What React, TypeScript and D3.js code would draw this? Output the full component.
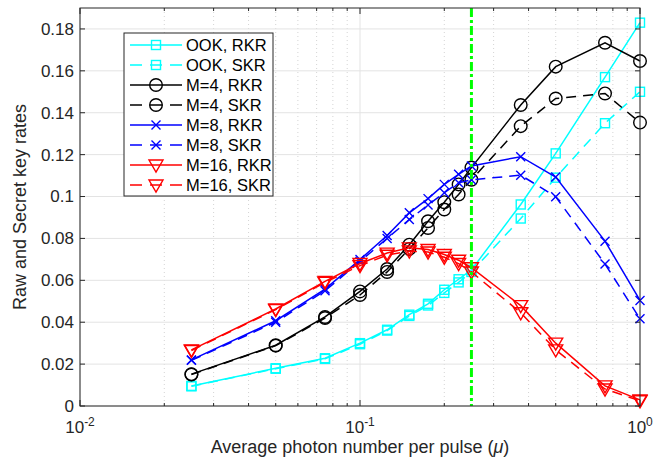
import React from "react";
import * as d3 from "d3";

const MU = [0.025, 0.05, 0.075, 0.1, 0.125, 0.15, 0.175, 0.2, 0.225, 0.25, 0.375, 0.5, 0.75, 1];

const OOK_RKR = [0.0096, 0.018, 0.0228, 0.030, 0.0364, 0.0436, 0.0488, 0.0555, 0.0605, 0.065, 0.0962, 0.1206, 0.157, 0.183];
const OOK_SKR = [0.0094, 0.0178, 0.0225, 0.0295, 0.036, 0.043, 0.048, 0.054, 0.059, 0.064, 0.0895, 0.109, 0.135, 0.150];
const M4_RKR = [0.0152, 0.029, 0.0425, 0.0547, 0.0654, 0.077, 0.0882, 0.0973, 0.1058, 0.1138, 0.1437, 0.162, 0.1734, 0.1647];
const M4_SKR = [0.015, 0.0288, 0.042, 0.053, 0.064, 0.075, 0.085, 0.0938, 0.101, 0.108, 0.1336, 0.1468, 0.1492, 0.1353];
const M8_RKR = [0.022, 0.0407, 0.0558, 0.0699, 0.0814, 0.0922, 0.099, 0.1058, 0.1106, 0.1146, 0.119, 0.1093, 0.0787, 0.0504];
const M8_SKR = [0.0218, 0.040, 0.055, 0.069, 0.080, 0.089, 0.096, 0.1018, 0.1066, 0.108, 0.1102, 0.0999, 0.0678, 0.0416];
const M16_RKR = [0.0268, 0.0463, 0.0595, 0.068, 0.073, 0.0755, 0.0747, 0.0723, 0.0696, 0.066, 0.0479, 0.030, 0.0096, 0.0029];
const M16_SKR = [0.0265, 0.046, 0.059, 0.067, 0.072, 0.074, 0.0735, 0.071, 0.068, 0.064, 0.0445, 0.0268, 0.0081, 0.0025];

const SERIES_NAMES = ["OOK, RKR", "OOK, SKR", "M=4, RKR", "M=4, SKR", "M=8, RKR", "M=8, SKR", "M=16, RKR", "M=16, SKR"];
const SERIES_VALUES = [OOK_RKR, OOK_SKR, M4_RKR, M4_SKR, M8_RKR, M8_SKR, M16_RKR, M16_SKR];
const SERIES_COLORS = ["#00ffff", "#00ffff", "#000000", "#000000", "#0000ff", "#0000ff", "#ff0000", "#ff0000"];
const SERIES_MARKERS = ["square", "square", "circle", "circle", "x", "x", "tri", "tri"];
const SERIES_DASHED = [false, true, false, true, false, true, false, true];

const Y_TICKS = [0, 0.02, 0.04, 0.06, 0.08, 0.1, 0.12, 0.14, 0.16, 0.18];
const Y_TICK_LABELS = ["0", "0.02", "0.04", "0.06", "0.08", "0.1", "0.12", "0.14", "0.16", "0.18"];
const X_MAJOR = [0.01, 0.1, 1];
const X_MAJOR_EXP = ["-2", "-1", "0"];
const THRESHOLD_MU = 0.25;

const W = 667, H = 464;
const L = 80, R = 640, T = 8, B = 406;
const FONT = "'Liberation Sans', Arial, Helvetica, sans-serif";

function Marker({ type, x, y, color }: { type: string; x: number; y: number; color: string }) {
  const sw = 1.4;
  if (type === "square") return <rect x={x - 4.5} y={y - 4.5} width={9} height={9} fill="none" stroke={color} strokeWidth={sw} />;
  if (type === "circle") return <circle cx={x} cy={y} r={6.3} fill="none" stroke={color} strokeWidth={sw} />;
  if (type === "x")
    return (
      <path d={`M${x - 4.5},${y - 4.5}L${x + 4.5},${y + 4.5}M${x - 4.5},${y + 4.5}L${x + 4.5},${y - 4.5}`} stroke={color} strokeWidth={sw} fill="none" />
    );
  return <path d={`M${x - 7},${y - 5}L${x + 7},${y - 5}L${x},${y + 7}Z`} fill="none" stroke={color} strokeWidth={sw} />;
}

export default function App() {
  const x = d3.scaleLog().domain([0.01, 1]).range([L, R]);
  const y = d3.scaleLinear().domain([0, 0.19]).range([B, T]);
  const minors: number[] = [];
  [0.01, 0.1].forEach((b) => {
    for (let k = 2; k <= 9; k++) minors.push(b * k);
  });
  const line = d3
    .line<[number, number]>()
    .x((d) => x(d[0]))
    .y((d) => y(d[1]));

  const legendX = 124, legendY = 33, legendW = 149, legendH = 163;

  return (
    <svg width={W} height={H} style={{ position: "absolute", left: 0, top: 0, background: "#fff" }} fontFamily={FONT}>
      <rect x={0} y={0} width={W} height={H} fill="#fff" />
      {/* grid */}
      {minors.map((m, i) => (
        <line key={"mg" + i} x1={x(m)} x2={x(m)} y1={T} y2={B} stroke="#d4d4d4" strokeWidth={1} strokeDasharray="1,3" />
      ))}
      {X_MAJOR.map((m, i) => (
        <line key={"xg" + i} x1={x(m)} x2={x(m)} y1={T} y2={B} stroke="#e3e3e3" strokeWidth={1} />
      ))}
      {Y_TICKS.map((t, i) => (
        <line key={"yg" + i} x1={L} x2={R} y1={y(t)} y2={y(t)} stroke="#e3e3e3" strokeWidth={1} />
      ))}
      {/* series */}
      {SERIES_VALUES.map((vals, si) => {
        const pts: [number, number][] = MU.map((m, i) => [m, vals[i]]);
        return (
          <g key={"s" + si}>
            <path
              d={line(pts) || ""}
              fill="none"
              stroke={SERIES_COLORS[si]}
              strokeWidth={1.5}
              strokeDasharray={SERIES_DASHED[si] ? "10,7" : undefined}
            />
            {pts.map((p, i) => (
              <Marker key={i} type={SERIES_MARKERS[si]} x={x(p[0])} y={y(p[1])} color={SERIES_COLORS[si]} />
            ))}
          </g>
        );
      })}
      {/* threshold line */}
      <line x1={x(THRESHOLD_MU)} x2={x(THRESHOLD_MU)} y1={T} y2={B} stroke="#00ff00" strokeWidth={3} strokeDasharray="9,3,3,3" />
      {/* axes box */}
      <rect x={L} y={T} width={R - L} height={B - T} fill="none" stroke="#262626" strokeWidth={1} />
      {/* ticks */}
      {Y_TICKS.map((t, i) => (
        <g key={"yt" + i}>
          <line x1={L} x2={L + 5} y1={y(t)} y2={y(t)} stroke="#262626" />
          <line x1={R} x2={R - 5} y1={y(t)} y2={y(t)} stroke="#262626" />
          <text x={L - 6} y={y(t)} dy="0.35em" textAnchor="end" fontSize={17} fill="#262626">
            {Y_TICK_LABELS[i]}
          </text>
        </g>
      ))}
      {X_MAJOR.map((m, i) => (
        <g key={"xt" + i}>
          <line x1={x(m)} x2={x(m)} y1={B} y2={B - 6} stroke="#262626" />
          <line x1={x(m)} x2={x(m)} y1={T} y2={T + 6} stroke="#262626" />
          <text x={x(m)} y={B + 27} textAnchor="middle" fontSize={17} fill="#262626">
            10
            <tspan dy={-7} fontSize={12}>
              {X_MAJOR_EXP[i]}
            </tspan>
          </text>
        </g>
      ))}
      {minors.map((m, i) => (
        <g key={"xm" + i}>
          <line x1={x(m)} x2={x(m)} y1={B} y2={B - 3} stroke="#262626" />
          <line x1={x(m)} x2={x(m)} y1={T} y2={T + 3} stroke="#262626" />
        </g>
      ))}
      {/* axis labels */}
      <text x={(L + R) / 2} y={453} textAnchor="middle" fontSize={18} fill="#262626">
        Average photon number per pulse (<tspan fontStyle="italic">μ</tspan>)
      </text>
      <text transform={`translate(26,${(T + B) / 2}) rotate(-90)`} textAnchor="middle" fontSize={18} fill="#262626">
        Raw and Secret key rates
      </text>
      {/* legend */}
      <rect x={legendX} y={legendY} width={legendW} height={legendH} fill="#fff" stroke="#262626" strokeWidth={1} />
      {SERIES_NAMES.map((name, i) => {
        const ly = legendY + 12 + i * 20;
        return (
          <g key={"lg" + i}>
            <line
              x1={130}
              x2={182}
              y1={ly}
              y2={ly}
              stroke={SERIES_COLORS[i]}
              strokeWidth={1.5}
              strokeDasharray={SERIES_DASHED[i] ? "12,8" : undefined}
            />
            <Marker type={SERIES_MARKERS[i]} x={156} y={ly} color={SERIES_COLORS[i]} />
            <text x={186} y={ly} dy="0.35em" fontSize={16.5} fill="#000">
              {name}
            </text>
          </g>
        );
      })}
    </svg>
  );
}
